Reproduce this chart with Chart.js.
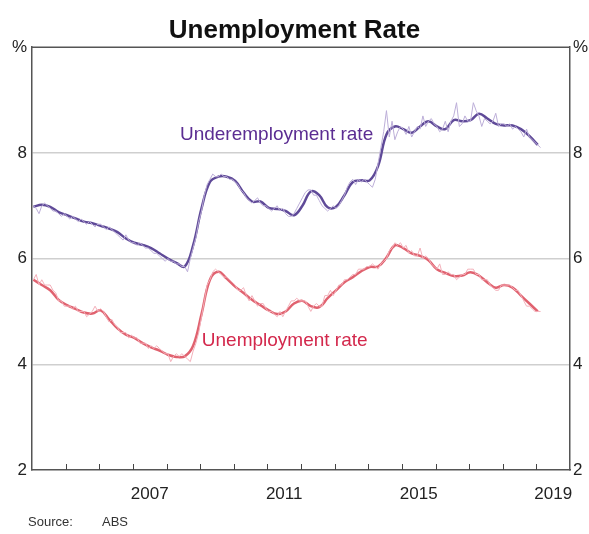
<!DOCTYPE html>
<html>
<head>
<meta charset="utf-8">
<script src="https://cdn.jsdelivr.net/npm/chart.js@4.4.1/dist/chart.umd.min.js"></script>
<style>
  body { margin: 0; background: #fff; }
  #wrap { width: 589px; height: 534px; }
</style>
</head>
<body>
<div id="wrap"><canvas id="unempChart" width="589" height="534"></canvas></div>
<script>
// monthly data starts Jan 2004, quarterly trend points start Jan 2004
const startYear = 2004;
const yearLabels = [2007, 2011, 2015, 2019];
const yTicks = [2, 4, 6, 8, 10];

// seasonally adjusted, monthly (%)
const unempMonthly = [
  5.6, 5.7, 5.5, 5.6, 5.5, 5.5, 5.5, 5.4, 5.35, 5.2, 5.2, 5.1,
  5.1, 5.1, 5.05, 5.1, 5.0, 5.0, 5.0, 4.9, 4.95, 5.0, 5.1, 5.0,
  5.05, 5.0, 4.9, 4.8, 4.85, 4.75, 4.7, 4.6, 4.6, 4.6, 4.5, 4.55,
  4.5, 4.5, 4.4, 4.4, 4.4, 4.3, 4.35, 4.3, 4.35, 4.3, 4.25, 4.2,
  4.2, 4.05, 4.15, 4.2, 4.15, 4.2, 4.15, 4.1, 4.05, 4.25, 4.4, 4.6,
  4.9, 5.2, 5.5, 5.6, 5.75, 5.8, 5.75, 5.7, 5.65, 5.65, 5.6, 5.55,
  5.5, 5.4, 5.4, 5.45, 5.3, 5.2, 5.3, 5.2, 5.1, 5.15, 5.15, 5.05,
  5.0, 5.0, 4.95, 4.9, 5.0, 4.9, 5.0, 5.1, 5.2, 5.2, 5.25, 5.2,
  5.2, 5.2, 5.1, 5.0, 5.1, 5.15, 5.1, 5.1, 5.3, 5.3, 5.4, 5.3,
  5.4, 5.5, 5.5, 5.6, 5.6, 5.65, 5.7, 5.7, 5.8, 5.8, 5.8, 5.85,
  5.85, 5.9, 5.85, 5.8, 5.9, 5.95, 6.0, 6.15, 6.2, 6.3, 6.25, 6.3,
  6.2, 6.25, 6.1, 6.15, 6.05, 6.05, 6.2, 6.0, 6.05, 6.0, 5.9, 5.85,
  5.8, 5.9, 5.7, 5.7, 5.75, 5.7, 5.7, 5.6, 5.65, 5.7, 5.7, 5.8,
  5.8, 5.8, 5.7, 5.7, 5.6, 5.6, 5.6, 5.5, 5.45, 5.4, 5.4, 5.5,
  5.5, 5.5, 5.5, 5.45, 5.4, 5.4, 5.3, 5.2, 5.1, 5.1, 5.05, 5.0,
  5.0, 5.0
];
const underMonthly = [
  7.0, 6.95, 6.85, 7.0, 7.05, 7.0, 6.95, 6.9, 6.9, 6.85, 6.8, 6.85,
  6.8, 6.75, 6.8, 6.75, 6.7, 6.75, 6.7, 6.65, 6.7, 6.65, 6.6, 6.65,
  6.65, 6.6, 6.55, 6.6, 6.55, 6.5, 6.45, 6.4, 6.35, 6.45, 6.35, 6.3,
  6.3, 6.25, 6.3, 6.25, 6.2, 6.2, 6.15, 6.1, 6.1, 6.05, 6.0, 5.95,
  6.0, 5.95, 5.95, 5.9, 5.9, 5.85, 5.85, 5.75, 6.0, 6.2, 6.4, 6.7,
  6.9, 7.2, 7.4, 7.5, 7.6, 7.55, 7.55, 7.6, 7.55, 7.55, 7.5, 7.5,
  7.45, 7.4, 7.3, 7.25, 7.15, 7.1, 7.05, 7.1, 7.15, 7.05, 7.0, 7.0,
  6.95, 6.9, 6.95, 7.0, 6.9, 6.95, 6.85, 6.8, 6.8, 6.85, 6.95, 7.05,
  7.15, 7.25, 7.3, 7.3, 7.2, 7.2, 7.1, 7.0, 6.95, 6.9, 6.95, 7.0,
  6.95, 7.0, 7.1, 7.2, 7.35, 7.45, 7.5, 7.4, 7.5, 7.45, 7.5, 7.45,
  7.4, 7.35, 7.5, 7.8, 8.1, 8.4, 8.8, 8.3, 8.6, 8.25, 8.4, 8.5,
  8.45, 8.35, 8.5, 8.3, 8.4, 8.5, 8.45, 8.7, 8.5, 8.6, 8.65, 8.55,
  8.5, 8.4, 8.45, 8.6, 8.4, 8.6, 8.7, 8.95, 8.5, 8.55, 8.7, 8.6,
  8.6, 8.95, 8.8, 8.7, 8.5, 8.65, 8.6, 8.55, 8.6, 8.75, 8.5, 8.55,
  8.55, 8.5, 8.55, 8.45, 8.5, 8.45, 8.4, 8.3, 8.45, 8.3, 8.25, 8.2,
  8.15, 8.1
];

// trend, quarterly (%)
const unempTrend = [
  5.6, 5.5, 5.4, 5.22, 5.12, 5.05, 4.98, 4.96, 5.02, 4.85, 4.68, 4.56,
  4.5, 4.4, 4.32, 4.26, 4.18, 4.14, 4.15, 4.35, 4.95, 5.6, 5.75, 5.62,
  5.47, 5.35, 5.22, 5.12, 5.02, 4.95, 5.0, 5.15, 5.2, 5.1, 5.08, 5.25,
  5.4, 5.55, 5.65, 5.76, 5.84, 5.85, 6.02, 6.25, 6.2, 6.1, 6.05, 5.97,
  5.8, 5.73, 5.67, 5.68, 5.74, 5.68, 5.55, 5.45, 5.5, 5.45, 5.3, 5.15,
  5.0
];
const underTrend = [
  6.98, 7.02, 6.98, 6.88, 6.82, 6.76, 6.7, 6.67, 6.62, 6.57, 6.5, 6.38,
  6.3, 6.26, 6.2, 6.1, 6.0, 5.92, 5.85, 6.25, 6.95, 7.45, 7.55, 7.55,
  7.47, 7.25, 7.08, 7.08, 6.96, 6.94, 6.9, 6.82, 7.0, 7.27, 7.2, 6.97,
  6.98, 7.2, 7.45, 7.48, 7.48, 7.75, 8.35, 8.5, 8.45, 8.38, 8.5, 8.6,
  8.5, 8.45, 8.62, 8.6, 8.62, 8.74, 8.65, 8.55, 8.52, 8.52, 8.45, 8.32,
  8.15
];

const monthPts = arr => arr.map((v, i) => ({ x: startYear + i / 12 + 1 / 24, y: v }));
const quarterPts = arr => arr.map((v, i) => ({ x: startYear + i / 4 + 1 / 24, y: v }));

const FONT = "'Liberation Sans', Arial, sans-serif";

const decorPlugin = {
  id: 'decor',
  afterDatasetsDraw(chart) {
    const { ctx, chartArea, scales } = chart;
    const xs = scales.x, ys = scales.y;
    ctx.save();
    // frame top line
    ctx.strokeStyle = '#555';
    ctx.lineWidth = 1.5;
    ctx.beginPath();
    ctx.moveTo(chartArea.left, chartArea.top);
    ctx.lineTo(chartArea.right, chartArea.top);
    ctx.stroke();
    // year tick marks pointing up
    ctx.lineWidth = 1;
    ctx.strokeStyle = '#444';
    for (let yr = startYear + 1; yr < 2020; yr++) {
      const px = Math.round(xs.getPixelForValue(yr)) + 0.5;
      ctx.beginPath();
      ctx.moveTo(px, chartArea.bottom);
      ctx.lineTo(px, chartArea.bottom - 6);
      ctx.stroke();
    }
    // series labels
    ctx.font = '19px ' + FONT;
    ctx.textBaseline = 'middle';
    ctx.fillStyle = '#5b2d92';
    ctx.fillText('Underemployment rate', xs.getPixelForValue(2008.4), ys.getPixelForValue(8.35));
    ctx.fillStyle = '#d3284c';
    ctx.fillText('Unemployment rate', xs.getPixelForValue(2009.05), ys.getPixelForValue(4.45));
    // source
    ctx.fillStyle = '#333';
    ctx.font = '13px ' + FONT;
    ctx.fillText('Source:', 28, 522);
    ctx.fillText('ABS', 102, 522);
    ctx.restore();
  }
};

const yAxis = (pos) => ({
  type: 'linear',
  position: pos,
  min: 2,
  max: 10,
  afterBuildTicks: s => { s.ticks = yTicks.map(v => ({ value: v })); },
  afterFit: s => { s.width = pos === 'left' ? 32 : 19; },
  ticks: {
    color: '#222',
    font: { family: FONT, size: 17 },
    padding: pos === 'left' ? 5 : 3,
    callback: v => v === 10 ? '%' : v
  },
  grid: {
    display: pos === 'left',
    drawTicks: false,
    lineWidth: 1.5,
    color: c => (c.tick && c.tick.value > 2 && c.tick.value < 10) ? '#cfcfcf' : 'rgba(0,0,0,0)'
  },
  border: { display: true, color: '#555', width: 1.5 }
});

new Chart(document.getElementById('unempChart').getContext('2d'), {
  type: 'line',
  data: {
    datasets: [
      { label: 'Underemployment (monthly)', data: monthPts(underMonthly), borderColor: '#bcaed8', borderWidth: 1, pointRadius: 0, tension: 0, yAxisID: 'y' },
      { label: 'Unemployment (monthly)', data: monthPts(unempMonthly), borderColor: '#f3b0ba', borderWidth: 1, pointRadius: 0, tension: 0, yAxisID: 'y' },
      { label: 'Underemployment rate', data: quarterPts(underTrend), borderColor: '#5f4a98', borderWidth: 2.5, pointRadius: 0, tension: 0.4, yAxisID: 'y' },
      { label: 'Unemployment rate', data: quarterPts(unempTrend), borderColor: '#e0626f', borderWidth: 2.5, pointRadius: 0, tension: 0.4, yAxisID: 'y' }
    ]
  },
  options: {
    responsive: false,
    animation: false,
    layout: { padding: 0 },
    plugins: {
      legend: { display: false },
      tooltip: { enabled: false },
      title: {
        display: true,
        text: 'Unemployment Rate',
        color: '#111',
        font: { family: FONT, size: 26, weight: 'bold' },
        padding: { top: 15, bottom: 1 }
      }
    },
    scales: {
      x: {
        type: 'linear',
        min: 2004,
        max: 2020,
        afterBuildTicks: s => { s.ticks = yearLabels.map(y => ({ value: y + 0.5 })); },
        afterFit: s => { s.height = 64; },
        ticks: {
          color: '#222',
          font: { family: FONT, size: 17 },
          padding: 6,
          maxRotation: 0,
          callback: v => Math.floor(v)
        },
        grid: { display: false },
        border: { display: true, color: '#555', width: 1.5 }
      },
      y: yAxis('left'),
      y2: yAxis('right')
    }
  },
  plugins: [decorPlugin]
});
</script>
</body>
</html>
